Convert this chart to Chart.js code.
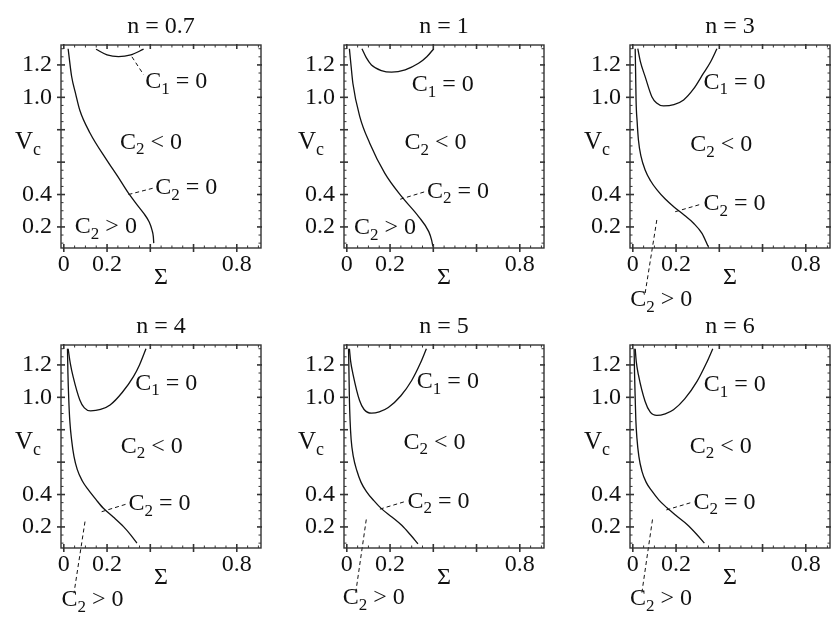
<!DOCTYPE html>
<html>
<head>
<meta charset="utf-8">
<script src="https://cdn.jsdelivr.net/npm/chart.js@4/dist/chart.umd.min.js"></script>
<style>
  html, body { margin: 0; padding: 0; background: #fff; overflow: hidden; }
  .panel { position: absolute; }
</style>
</head>
<body>
<div id="wrap"></div>
<script>
// axis ranges and tick labels
const X_MIN = -0.013, X_MAX = 0.912;
const Y_MIN = 0.07, Y_MAX = 1.323;
const X_TICK_LABELS = [0, 0.2, 0.8];
const Y_TICK_LABELS = [0.2, 0.4, 1.0, 1.2];
const TITLES = ['n = 0.7', 'n = 1', 'n = 3', 'n = 4', 'n = 5', 'n = 6'];

// C2 = 0 curves  [Sigma, Vc]
const n07_C2 = [[0.02,1.30],[0.036,1.13],[0.055,1.02],[0.074,0.92],[0.121,0.78],[0.198,0.614],[0.25,0.51],[0.299,0.408],[0.34,0.335],[0.369,0.285],[0.395,0.23],[0.408,0.18],[0.414,0.14],[0.416,0.10]];
const n1_C2  = [[0.012,1.30],[0.02,1.19],[0.028,1.087],[0.06,0.881],[0.106,0.717],[0.176,0.531],[0.254,0.387],[0.332,0.264],[0.379,0.171],[0.392,0.12],[0.398,0.08]];
const n3_C2  = [[0.011,1.30],[0.013,1.15],[0.015,0.984],[0.02,0.85],[0.026,0.737],[0.038,0.635],[0.057,0.552],[0.082,0.485],[0.111,0.43],[0.15,0.372],[0.189,0.325],[0.24,0.27],[0.281,0.223],[0.32,0.16],[0.348,0.08]];
const n4_C2  = [[0.017,1.30],[0.019,1.15],[0.023,0.984],[0.028,0.85],[0.036,0.737],[0.047,0.635],[0.062,0.555],[0.085,0.485],[0.113,0.43],[0.15,0.367],[0.183,0.315],[0.23,0.26],[0.276,0.202],[0.31,0.15],[0.338,0.10]];
const n5_C2  = [[0.008,1.30],[0.01,1.15],[0.012,0.99],[0.015,0.86],[0.02,0.74],[0.03,0.635],[0.047,0.545],[0.066,0.475],[0.09,0.42],[0.125,0.362],[0.16,0.313],[0.21,0.26],[0.254,0.21],[0.295,0.15],[0.329,0.096]];
const n6_C2  = [[0.006,1.30],[0.008,1.15],[0.011,0.995],[0.014,0.86],[0.019,0.748],[0.028,0.635],[0.042,0.545],[0.062,0.475],[0.088,0.422],[0.12,0.367],[0.158,0.318],[0.2,0.27],[0.251,0.215],[0.295,0.155],[0.331,0.10]];

// C1 = 0 curves
const n07_C1 = [[0.149,1.297],[0.2,1.262],[0.253,1.251],[0.31,1.262],[0.369,1.297]];
const n1_C1  = [[0.07,1.30],[0.09,1.245],[0.114,1.2],[0.16,1.165],[0.207,1.155],[0.27,1.17],[0.332,1.21],[0.37,1.25],[0.402,1.30]];
const n3_C1  = [[0.023,1.30],[0.035,1.22],[0.057,1.128],[0.088,1.004],[0.11,0.965],[0.142,0.947],[0.19,0.955],[0.235,0.984],[0.28,1.05],[0.327,1.149],[0.36,1.22],[0.389,1.30]];
const n4_C1  = [[0.02,1.30],[0.03,1.21],[0.043,1.128],[0.074,0.984],[0.095,0.935],[0.124,0.916],[0.17,0.925],[0.214,0.953],[0.27,1.03],[0.322,1.128],[0.35,1.20],[0.38,1.30]];
const n5_C1  = [[0.012,1.30],[0.018,1.22],[0.028,1.147],[0.059,0.98],[0.08,0.925],[0.114,0.902],[0.15,0.91],[0.192,0.937],[0.25,1.01],[0.3,1.104],[0.34,1.21],[0.368,1.30]];
const n6_C1  = [[0.011,1.30],[0.016,1.22],[0.026,1.138],[0.057,0.974],[0.08,0.91],[0.111,0.888],[0.15,0.898],[0.188,0.923],[0.24,0.99],[0.297,1.098],[0.34,1.21],[0.37,1.30]];

// dashed leader lines to the labels
const n07_leaders = [[[0.315,1.25],[0.369,1.14]], [[0.299,0.40],[0.415,0.44]]];
const n1_leaders  = [[[0.247,0.371],[0.363,0.418]]];
const n3_leaders  = [[[0.196,0.294],[0.32,0.342]], [[0.111,0.243],[0.057,-0.209]]];
const n4_leaders  = [[[0.175,0.294],[0.292,0.342]], [[0.098,0.233],[0.047,-0.209]]];
const n5_leaders  = [[[0.153,0.31],[0.273,0.358]], [[0.09,0.246],[0.041,-0.208]]];
const n6_leaders  = [[[0.155,0.305],[0.274,0.352]], [[0.091,0.246],[0.042,-0.205]]];

// region labels: [sub, rest, Sigma, Vc]  (all start with "C")
const n07_labels = [['1',' = 0',0.377,1.095],['2',' < 0',0.26,0.72],['2',' = 0',0.423,0.44],['2',' > 0',0.051,0.2]];
const n1_labels  = [['1',' = 0',0.30,1.077],['2',' < 0',0.267,0.717],['2',' = 0',0.371,0.418],['2',' > 0',0.033,0.194]];
const n3_labels  = [['1',' = 0',0.327,1.09],['2',' < 0',0.266,0.706],['2',' = 0',0.327,0.342],['2',' > 0',-0.012,-0.25]];
const n4_labels  = [['1',' = 0',0.33,1.087],['2',' < 0',0.263,0.696],['2',' = 0',0.299,0.342],['2',' > 0',-0.011,-0.25]];
const n5_labels  = [['1',' = 0',0.324,1.095],['2',' < 0',0.262,0.72],['2',' = 0',0.281,0.358],['2',' > 0',-0.019,-0.238]];
const n6_labels  = [['1',' = 0',0.328,1.077],['2',' < 0',0.263,0.698],['2',' = 0',0.281,0.352],['2',' > 0',-0.013,-0.245]];

const C2S = [n07_C2, n1_C2, n3_C2, n4_C2, n5_C2, n6_C2];
const C1S = [n07_C1, n1_C1, n3_C1, n4_C1, n5_C1, n6_C1];
const LEADERS = [n07_leaders, n1_leaders, n3_leaders, n4_leaders, n5_leaders, n6_leaders];
const LABELS = [n07_labels, n1_labels, n3_labels, n4_labels, n5_labels, n6_labels];

const SERIF = '"Liberation Serif", "Times New Roman", serif';
const INK = '#111';
const FRAME = '#333';
const LEFTS = [0, 283, 569];
const TOPS = [0, 300];

function toXY(arr) {
    return arr.map(p => ({x: p[0], y: p[1]}));
}

function fmt(v) {
    return v === 0 ? '0' : Number(v).toFixed(1);
}

function drawSub(ctx, x, y, base, sub, rest, size) {
    ctx.textAlign = 'left';
    ctx.textBaseline = 'middle';
    ctx.fillStyle = INK;
    ctx.font = size + 'px ' + SERIF;
    ctx.fillText(base, x, y);
    let w = ctx.measureText(base).width;
    ctx.font = Math.round(size * 0.72) + 'px ' + SERIF;
    ctx.fillText(sub, x + w, y + size * 0.3);
    w += ctx.measureText(sub).width;
    if(rest) {
        ctx.font = size + 'px ' + SERIF;
        ctx.fillText(rest, x + w, y);
    }
}

// frame with Mathematica-style ticks on all four sides
const frameTicks = {
    id: 'frameTicks',
    afterDraw(chart) {
        const {ctx, chartArea: a, scales: {x, y}} = chart;
        ctx.save();
        ctx.strokeStyle = FRAME;
        ctx.lineWidth = 1.4;
        ctx.strokeRect(a.left, a.top, a.right - a.left, a.bottom - a.top);

        const seg = (x1, y1, x2, y2, w) => {
            ctx.lineWidth = w;
            ctx.beginPath();
            ctx.moveTo(x1, y1);
            ctx.lineTo(x2, y2);
            ctx.stroke();
        };
        for(let i = 0; i <= 18; i++) {
            const px = x.getPixelForValue(i * 0.05);
            if(px > a.right) break;
            if(i % 4 === 0) {
                seg(px, a.bottom + 4, px, a.bottom - 4, 1.6);
                seg(px, a.top - 1, px, a.top + 4, 1.6);
            } else {
                seg(px, a.bottom, px, a.bottom - 2.5, 1);
                seg(px, a.top, px, a.top + 2.5, 1);
            }
        }
        for(let i = 2; i <= 26; i++) {
            const py = y.getPixelForValue(i * 0.05);
            if(py < a.top) break;
            if(i % 4 === 0) {
                seg(a.left - 4, py, a.left + 4, py, 1.6);
                seg(a.right + 1, py, a.right - 4, py, 1.6);
            } else {
                seg(a.left, py, a.left + 2.5, py, 1);
                seg(a.right, py, a.right - 2.5, py, 1);
            }
        }
        ctx.restore();
    }
};

// region labels and axis names
const panelText = {
    id: 'panelText',
    afterDraw(chart, args, opts) {
        const {ctx, chartArea: a, scales: {x, y}} = chart;
        ctx.save();
        (opts.items || []).forEach(it => {
            drawSub(ctx, x.getPixelForValue(it[2]), y.getPixelForValue(it[3]), 'C', it[0], it[1], 24);
        });
        drawSub(ctx, a.left - 46, y.getPixelForValue(0.72), 'V', 'c', '', 25);
        ctx.font = '24px ' + SERIF;
        ctx.textAlign = 'center';
        ctx.textBaseline = 'middle';
        ctx.fillText('\u03A3', (a.left + a.right) / 2, a.bottom + 30);
        ctx.restore();
    }
};

function makePanel(i) {
    const div = document.createElement('div');
    div.className = 'panel';
    div.style.left = LEFTS[i % 3] + 'px';
    div.style.top = TOPS[Math.floor(i / 3)] + 'px';
    const canvas = document.createElement('canvas');
    canvas.width = 269;
    canvas.height = 330;
    div.appendChild(canvas);
    document.getElementById('wrap').appendChild(div);

    const curve = pts => ({
        data: toXY(pts), borderColor: INK, borderWidth: 1.3, pointRadius: 0,
        showLine: true, cubicInterpolationMode: 'monotone', fill: false
    });
    const datasets = [curve(C2S[i]), curve(C1S[i])];
    LEADERS[i].forEach(l => {
        datasets.push({ data: toXY(l), borderColor: INK, borderWidth: 1, borderDash: [4, 3], pointRadius: 0, showLine: true, tension: 0, clip: false });
    });

    const tickFont = { family: SERIF, size: 24 };

    new Chart(canvas.getContext('2d'), {
        type: 'scatter',
        data: { datasets: datasets },
        options: {
            responsive: false,
            animation: false,
            events: [],
            layout: { padding: { left: 0, right: 8, top: 0, bottom: 30 } },
            plugins: {
                legend: { display: false },
                tooltip: { enabled: false },
                title: {
                    display: true,
                    fullSize: false,
                    text: TITLES[i],
                    color: INK,
                    font: { family: SERIF, size: 24, weight: 'normal', lineHeight: 1.2 },
                    padding: { top: 12.1, bottom: 4.1 }
                },
                panelText: { items: LABELS[i] }
            },
            scales: {
                x: {
                    type: 'linear',
                    min: X_MIN,
                    max: X_MAX,
                    grid: { display: false, drawTicks: false },
                    border: { display: false },
                    afterBuildTicks: s => { s.ticks = X_TICK_LABELS.map(v => ({value: v})); },
                    afterFit: s => { s.height = 52; },
                    ticks: { padding: 2, color: INK, font: tickFont, autoSkip: false, maxRotation: 0, callback: fmt }
                },
                y: {
                    type: 'linear',
                    min: Y_MIN,
                    max: Y_MAX,
                    grid: { display: false, drawTicks: false },
                    border: { display: false },
                    afterBuildTicks: s => { s.ticks = Y_TICK_LABELS.map(v => ({value: v})); },
                    afterFit: s => { s.width = 61; },
                    ticks: { padding: 9, color: INK, font: tickFont, autoSkip: false, callback: fmt }
                }
            }
        },
        plugins: [frameTicks, panelText]
    });
}

for(let i = 0; i < 6; i++) makePanel(i);
</script>
</body>
</html>
